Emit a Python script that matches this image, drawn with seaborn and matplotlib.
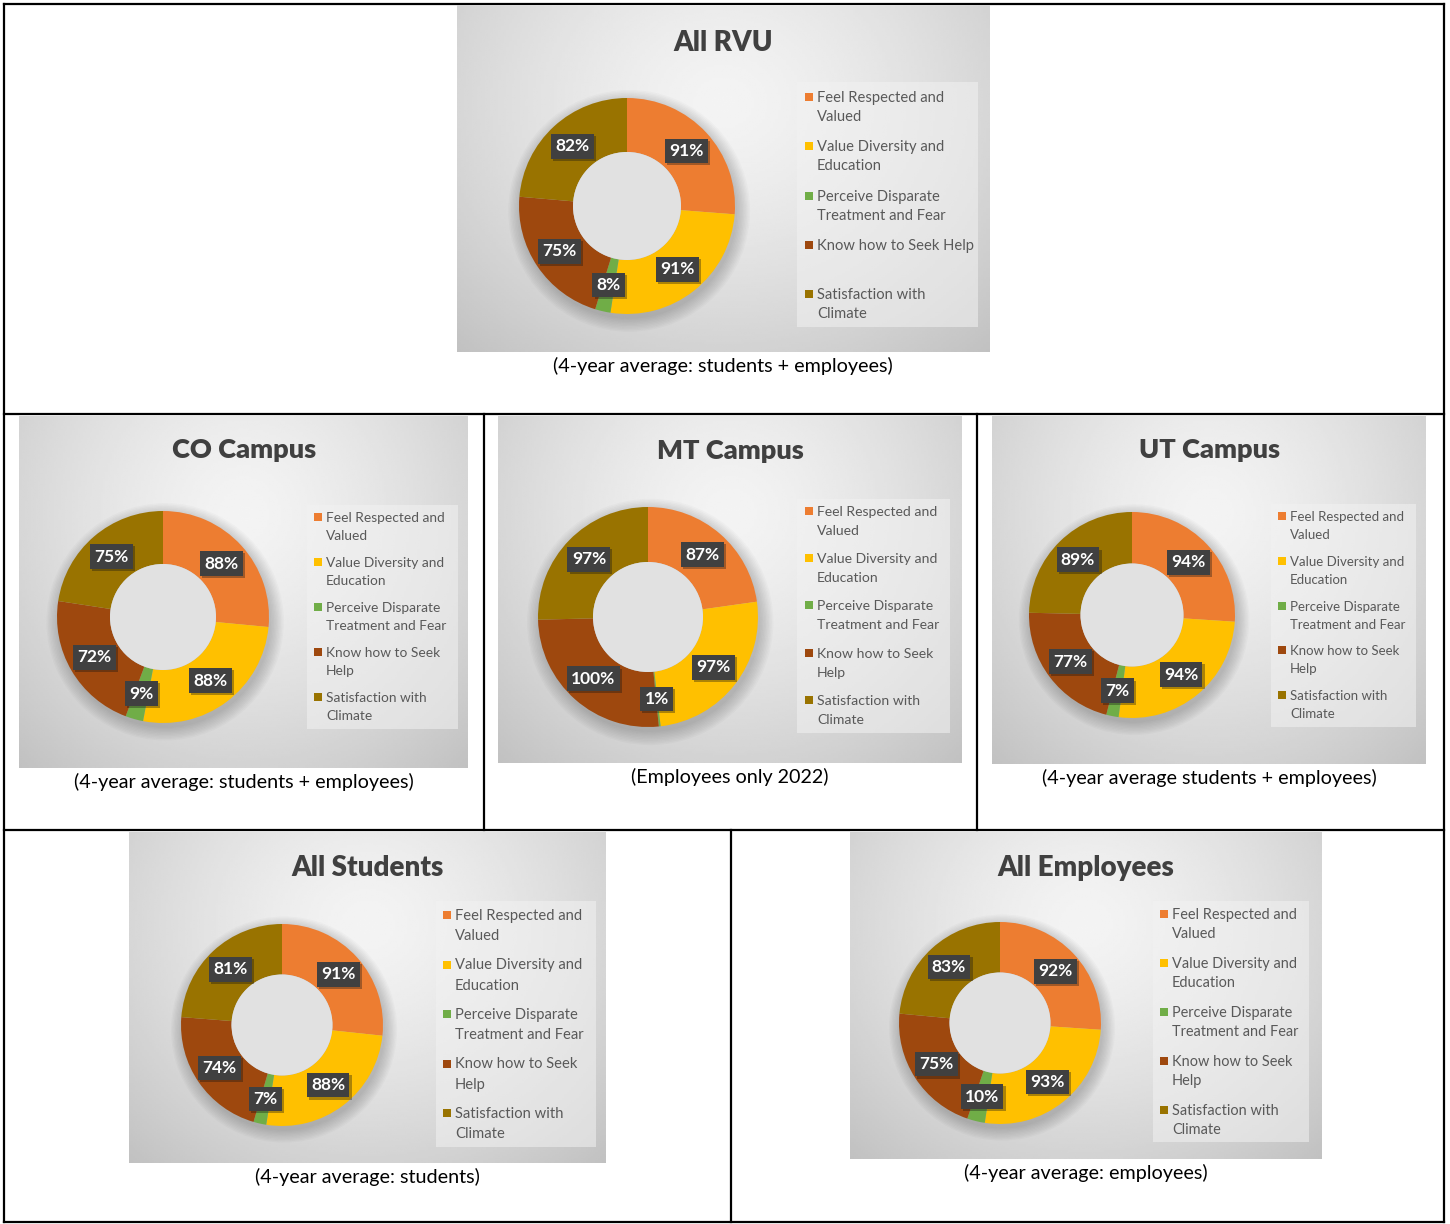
import numpy as np
import matplotlib
matplotlib.use("Agg")
import matplotlib.pyplot as plt
from matplotlib.patches import Rectangle, Circle
import matplotlib.patheffects as pe
import seaborn as sns

sns.set_theme(style="white")
plt.rcParams['font.family'] = ['Lato', 'DejaVu Sans']

# ---------------- data ----------------
categories = ["Feel Respected and Valued", "Value Diversity and Education",
              "Perceive Disparate Treatment and Fear", "Know how to Seek Help",
              "Satisfaction with Climate"]
legend_lines = [["Feel Respected and", "Valued"],
                ["Value Diversity and", "Education"],
                ["Perceive Disparate", "Treatment and Fear"],
                ["Know how to Seek", "Help"],
                ["Satisfaction with", "Climate"]]
legend_lines_rvu = [["Feel Respected and", "Valued"],
                    ["Value Diversity and", "Education"],
                    ["Perceive Disparate", "Treatment and Fear"],
                    ["Know how to Seek Help"],
                    ["Satisfaction with", "Climate"]]
palette = sns.color_palette(["#ED7D31", "#FFC000", "#70AD47", "#9E480E", "#997300"])

titles = ["All RVU", "CO Campus", "MT Campus", "UT Campus", "All Students", "All Employees"]
captions = ["(4-year average: students + employees)",
            "(4-year average: students + employees)",
            "(Employees only 2022)",
            "(4-year average students + employees)",
            "(4-year average: students)",
            "(4-year average: employees)"]

all_rvu = [91, 91, 8, 75, 82]
co_campus = [88, 88, 9, 72, 75]
mt_campus = [87, 97, 1, 100, 97]
ut_campus = [94, 94, 7, 77, 89]
all_students = [91, 88, 7, 74, 81]
all_employees = [92, 93, 10, 75, 83]
series = [all_rvu, co_campus, mt_campus, ut_campus, all_students, all_employees]

# ---------------- layout (pixels) ----------------
W, H = 1450, 1224
layout = [
    dict(box=(457, 5, 990, 352), c=(627, 206), R=108, title=(723, 51), leg=(797, 82, 978, 327),
         tx=817, y0=97, step=49.3, lh=19, fs=10.6, cap=(723, 366), tfs=20),
    dict(box=(19, 416, 468, 768), c=(163, 617), R=106, title=(244, 458), leg=(307, 505, 458, 729),
         tx=326, y0=517, step=45, lh=18, fs=9.95, cap=(244, 782), tfs=19.5),
    dict(box=(498, 416, 961, 763), c=(648, 617), R=110, title=(730, 459), leg=(797, 499, 950, 733),
         tx=817, y0=511, step=47.2, lh=19, fs=10.1, cap=(730, 777), tfs=19.5),
    dict(box=(992, 416, 1426, 764), c=(1132, 615), R=103, title=(1210, 458), leg=(1271, 504, 1416, 727),
         tx=1290, y0=516, step=44.8, lh=18, fs=9.5, cap=(1209, 778), tfs=19.5),
    dict(box=(129, 832, 606, 1163), c=(282, 1025), R=101, title=(368, 876), leg=(436, 901, 596, 1147),
         tx=455, y0=915, step=49.5, lh=20, fs=10.65, cap=(367, 1177), tfs=20),
    dict(box=(850, 832, 1321, 1159), c=(1000, 1023), R=101, title=(1086, 876), leg=(1153, 901, 1309, 1142),
         tx=1172, y0=914, step=49, lh=19, fs=10.45, cap=(1086, 1173), tfs=20),
]

fig = plt.figure(figsize=(W / 100, H / 100), dpi=100)
fig.patch.set_facecolor("white")


def px_axes(x0, y0, x1, y1, z=1):
    ax = fig.add_axes([x0 / W, 1 - y1 / H, (x1 - x0) / W, (y1 - y0) / H])
    ax.set_xlim(x0, x1)
    ax.set_ylim(y1, y0)
    ax.axis("off")
    ax.set_zorder(z)
    return ax


# table grid
tab = px_axes(0, 0, W, H, z=0)
grid = [((4, 1444), (4, 4)), ((4, 1444), (1222, 1222)), ((4, 4), (4, 1222)),
        ((1444, 1444), (4, 1222)), ((4, 1444), (414, 414)), ((4, 1444), (830, 830)),
        ((484, 484), (414, 830)), ((977, 977), (414, 830)), ((731, 731), (830, 1222))]
for xs, ys in grid:
    tab.plot(xs, ys, color="black", lw=1.6, solid_capstyle="projecting", clip_on=False)


def gradient(nx=200, ny=160):
    u = np.linspace(0, 1, nx)[None, :]
    v = np.linspace(0, 1, ny)[:, None]
    d = np.sqrt(((u - 0.5) / 0.72) ** 2 + ((v - 0.28) / 0.95) ** 2)
    return np.clip(0.955 - 0.19 * d ** 1.4, 0, 1)


for i, (vals, L) in enumerate(zip(series, layout)):
    x0, y0, x1, y1 = L["box"]
    pan = px_axes(x0, y0, x1, y1, z=2)
    pan.imshow(gradient(), cmap="gray", vmin=0, vmax=1, extent=(x0, x1, y1, y0),
               aspect="auto", interpolation="bilinear", zorder=0)
    pan.set_xlim(x0, x1)
    pan.set_ylim(y1, y0)
    # title
    tx, ty = L["title"]
    pan.text(tx, ty, titles[i], ha="center", va="baseline", fontsize=L["tfs"],
             fontweight="heavy", color="#404040")
    # legend box
    lx0, ly0, lx1, ly1 = L["leg"]
    pan.add_patch(Rectangle((lx0, ly0), lx1 - lx0, ly1 - ly0, facecolor="#F2F2F2",
                            alpha=0.55, edgecolor="none", zorder=1))
    lines_set = legend_lines_rvu if i == 0 else legend_lines
    for k, (lines, col) in enumerate(zip(lines_set, palette)):
        yc = L["y0"] + k * L["step"]
        pan.add_patch(Rectangle((L["tx"] - 12, yc - 4), 8, 8, facecolor=col,
                                edgecolor="none", zorder=2))
        for j, line in enumerate(lines):
            pan.text(L["tx"], yc + 5 + j * L["lh"], line, ha="left", va="baseline",
                     fontsize=L["fs"], color="#595959", zorder=3)
    # caption (outside panel, on table axes)
    cx, cy = L["cap"]
    tab.text(cx, cy, captions[i], ha="center", va="center", fontsize=14.2, color="black")

    # donut
    ccx, ccy = L["c"]
    R = L["R"]
    s = 1.3 * R
    dax = fig.add_axes([(ccx - s) / W, 1 - (ccy + s) / H, 2 * s / W, 2 * s / H])
    dax.set_zorder(3)
    dax.patch.set_alpha(0)
    for k, r in enumerate(np.linspace(1.12, 1.0, 10)):
        dax.add_patch(Circle((0.02, -0.045), r, facecolor="black", alpha=0.018,
                             edgecolor="none", zorder=0))
    wedges, texts = dax.pie(vals, colors=palette, startangle=90, counterclock=False,
                            radius=1, labels=[f"{v}%" for v in vals], labeldistance=0.75,
                            wedgeprops=dict(width=0.5, edgecolor="none"),
                            textprops=dict(color="white", fontweight="bold", fontsize=12.5,
                                           ha="center", va="center", zorder=5,
                                           bbox=dict(boxstyle="square,pad=0.25",
                                                     facecolor="#404040", edgecolor="none")))
    for t in texts:
        t.set_horizontalalignment("center")
        bp = t.get_bbox_patch()
        if bp is not None:
            bp.set_path_effects([pe.SimplePatchShadow(offset=(1.5, -1.5), alpha=0.35),
                                 pe.Normal()])
    dax.add_patch(Circle((0, 0), 0.5, facecolor="#E1E1E1", edgecolor="none", zorder=1))
    dax.set_xlim(-1.3, 1.3)
    dax.set_ylim(-1.3, 1.3)
    dax.set_aspect("equal")
    dax.axis("off")

fig.savefig("out.png", dpi=100, facecolor="white")
